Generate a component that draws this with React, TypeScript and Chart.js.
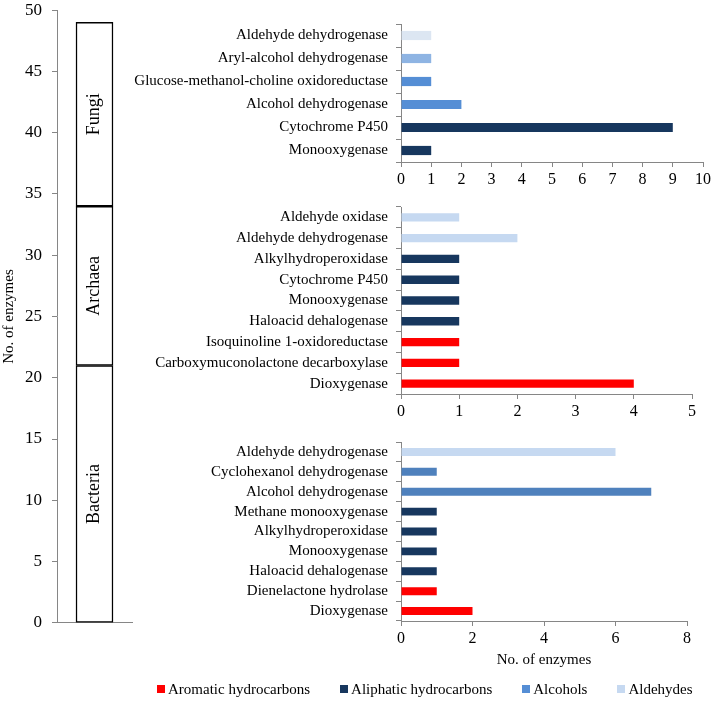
import React, { useEffect, useRef } from 'react';
import { Chart, registerables } from 'chart.js';

Chart.register(...registerables);

const FONT = '"Liberation Serif", "Times New Roman", serif';
const AXIS_GREY = '#868686';

// ---- Left: enzymes per domain (stacked) ----
const DOMAINS = ['Bacteria', 'Archaea', 'Fungi'];
const DOMAIN_ENZYMES = [21, 13, 15];

// ---- Legend classes ----
const CLASSES = ['Aromatic hydrocarbons', 'Aliphatic hydrocarbons', 'Alcohols', 'Aldehydes'];
const CLASS_COLORS = ['#FF0000', '#17375E', '#558ED5', '#C6D9F1'];

// ---- Fungi ----
const FUNGI_ENZYMES = [
  'Aldehyde dehydrogenase',
  'Aryl-alcohol dehydrogenase',
  'Glucose-methanol-choline oxidoreductase',
  'Alcohol dehydrogenase',
  'Cytochrome P450',
  'Monooxygenase',
];
const FUNGI_COUNTS = [1, 1, 1, 2, 9, 1];
const FUNGI_COLORS = ['#DCE6F2', '#8EB4E3', '#558ED5', '#558ED5', '#17375E', '#17375E'];

// ---- Archaea ----
const ARCHAEA_ENZYMES = [
  'Aldehyde oxidase',
  'Aldehyde dehydrogenase',
  'Alkylhydroperoxidase',
  'Cytochrome P450',
  'Monooxygenase',
  'Haloacid dehalogenase',
  'Isoquinoline 1-oxidoreductase',
  'Carboxymuconolactone decarboxylase',
  'Dioxygenase',
];
const ARCHAEA_COUNTS = [1, 2, 1, 1, 1, 1, 1, 1, 4];
const ARCHAEA_COLORS = ['#C6D9F1', '#C6D9F1', '#17375E', '#17375E', '#17375E', '#17375E', '#FF0000', '#FF0000', '#FF0000'];

// ---- Bacteria ----
const BACTERIA_ENZYMES = [
  'Aldehyde dehydrogenase',
  'Cyclohexanol dehydrogenase',
  'Alcohol dehydrogenase',
  'Methane monooxygenase',
  'Alkylhydroperoxidase',
  'Monooxygenase',
  'Haloacid dehalogenase',
  'Dienelactone hydrolase',
  'Dioxygenase',
];
const BACTERIA_COUNTS = [6, 1, 7, 1, 1, 1, 1, 1, 2];
const BACTERIA_COLORS = ['#C6D9F1', '#4F81BD', '#4F81BD', '#17375E', '#17375E', '#17375E', '#17375E', '#FF0000', '#FF0000'];

Chart.defaults.font.family = FONT;
Chart.defaults.color = '#000';

const domainLabelPlugin = {
  id: 'domainLabels',
  afterDatasetsDraw(chart: any) {
    const ctx = chart.ctx;
    chart.data.datasets.forEach((ds: any, i: number) => {
      const el = chart.getDatasetMeta(i).data[0];
      if (!el) return;
      const p = el.getProps(['x', 'y', 'base'], true);
      ctx.save();
      ctx.translate(p.x, (p.y + p.base) / 2);
      ctx.rotate(-Math.PI / 2);
      ctx.font = `18px ${FONT}`;
      ctx.fillStyle = '#000';
      ctx.textAlign = 'center';
      ctx.textBaseline = 'middle';
      ctx.fillText(ds.label, 0, 0);
      ctx.restore();
    });
  },
};

function DomainChart() {
  const ref = useRef<HTMLCanvasElement>(null);
  useEffect(() => {
    const chart = new Chart(ref.current!, {
      type: 'bar',
      data: {
        labels: [''],
        datasets: DOMAINS.map((d, i) => ({
          label: d,
          data: [DOMAIN_ENZYMES[i]],
          backgroundColor: '#FFFFFF',
          borderColor: '#000000',
          borderWidth: 1.5,
          borderSkipped: false,
          barThickness: 37,
        })),
      },
      options: {
        animation: false,
        responsive: false,
        layout: { padding: { top: 0, right: 18, bottom: 0, left: 0 } },
        plugins: { legend: { display: false }, tooltip: { enabled: false } },
        scales: {
          x: {
            stacked: true,
            ticks: { display: false },
            grid: { display: false },
            border: { display: true, color: AXIS_GREY },
            afterFit: (s: any) => { s.height = 18; },
          },
          y: {
            stacked: true,
            min: 0,
            max: 50,
            ticks: { stepSize: 5, font: { size: 17 }, color: '#000', padding: 10 },
            grid: { drawOnChartArea: false, drawTicks: true, tickLength: 5, color: AXIS_GREY },
            border: { color: AXIS_GREY },
            title: { display: true, text: 'No. of enzymes', font: { size: 15 }, color: '#000', padding: 0 },
            afterFit: (s: any) => { s.width = 57; },
          },
        },
      },
      plugins: [domainLabelPlugin],
    } as any);
    return () => chart.destroy();
  }, []);
  return (
    <canvas ref={ref} width={150} height={653}
      style={{ position: 'absolute', left: 0, top: -10, width: 150, height: 653 }} />
  );
}

type HProps = {
  labels: string[];
  values: number[];
  colors: string[];
  max: number;
  step: number;
  left: number;
  top: number;
  width: number;
  height: number;
  padding: { top: number; right: number; bottom: number; left: number };
  yWidth: number;
  xHeight: number;
  xTitle?: string;
};

function HBarChart(p: HProps) {
  const ref = useRef<HTMLCanvasElement>(null);
  useEffect(() => {
    const chart = new Chart(ref.current!, {
      type: 'bar',
      data: {
        labels: p.labels,
        datasets: [{
          data: p.values,
          backgroundColor: p.colors,
          borderWidth: 0,
          categoryPercentage: 1,
          barPercentage: 0.4,
        }],
      },
      options: {
        indexAxis: 'y',
        animation: false,
        responsive: false,
        layout: { padding: p.padding },
        plugins: { legend: { display: false }, tooltip: { enabled: false } },
        scales: {
          y: {
            ticks: { font: { size: 15 }, color: '#000', padding: 8, autoSkip: false },
            grid: { offset: true, drawOnChartArea: false, drawTicks: true, tickLength: 5, color: AXIS_GREY },
            border: { color: AXIS_GREY },
            afterFit: (s: any) => { s.width = p.yWidth; },
          },
          x: {
            min: 0,
            max: p.max,
            ticks: { stepSize: p.step, font: { size: 16 }, color: '#000', padding: 3 },
            grid: { drawOnChartArea: false, drawTicks: true, tickLength: 5, color: AXIS_GREY },
            border: { color: AXIS_GREY },
            title: p.xTitle
              ? { display: true, text: p.xTitle, font: { size: 15 }, color: '#000', padding: { top: 0, bottom: 32 } }
              : { display: false },
            afterFit: (s: any) => { s.height = p.xHeight; },
          },
        },
      },
    } as any);
    return () => chart.destroy();
  }, []);
  return (
    <canvas ref={ref} width={p.width} height={p.height}
      style={{ position: 'absolute', left: p.left, top: p.top, width: p.width, height: p.height }} />
  );
}

function Legend() {
  return (
    <div style={{
      position: 'absolute', left: 157, top: 680, display: 'flex', gap: 30,
      fontFamily: FONT, fontSize: 15, lineHeight: '18px', color: '#000', whiteSpace: 'nowrap',
    }}>
      {CLASSES.map((c, i) => (
        <div key={c} style={{ display: 'flex', alignItems: 'center' }}>
          <span style={{ display: 'inline-block', width: 8, height: 8, background: CLASS_COLORS[i], marginRight: 3 }} />
          <span style={{ fontFamily: FONT }}>{c}</span>
        </div>
      ))}
    </div>
  );
}

export default function App() {
  return (
    <div style={{ position: 'absolute', left: 0, top: 0, width: 714, height: 701, background: '#fff', overflow: 'hidden' }}>
      <DomainChart />
      <HBarChart labels={FUNGI_ENZYMES} values={FUNGI_COUNTS} colors={FUNGI_COLORS} max={10} step={1}
        left={120} top={0} width={594} height={200}
        padding={{ top: 24, right: 10, bottom: 0, left: 0 }} yWidth={281} xHeight={38} />
      <HBarChart labels={ARCHAEA_ENZYMES} values={ARCHAEA_COUNTS} colors={ARCHAEA_COLORS} max={5} step={1}
        left={120} top={190} width={594} height={240}
        padding={{ top: 17, right: 22, bottom: 0, left: 0 }} yWidth={281} xHeight={36} />
      <HBarChart labels={BACTERIA_ENZYMES} values={BACTERIA_COUNTS} colors={BACTERIA_COLORS} max={8} step={2}
        left={120} top={425} width={594} height={276}
        padding={{ top: 9, right: 27, bottom: 0, left: 0 }} yWidth={281} xHeight={80} xTitle="No. of enzymes" />
      <Legend />
    </div>
  );
}
